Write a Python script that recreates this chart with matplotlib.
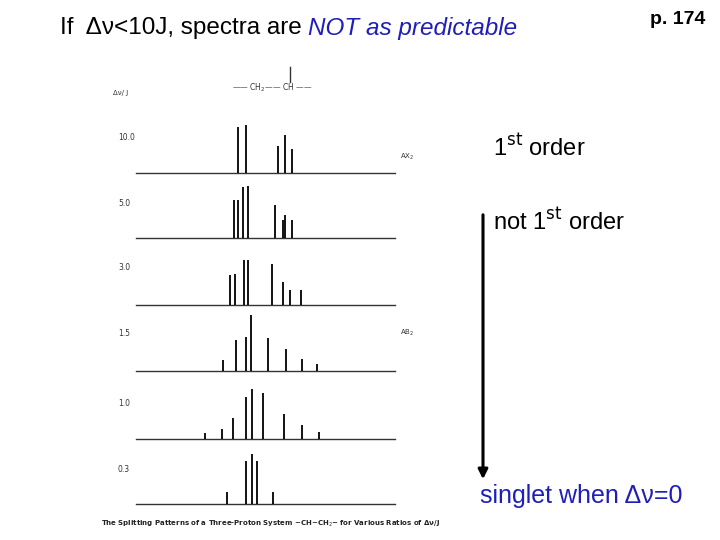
import matplotlib
matplotlib.use("Agg")
import matplotlib.pyplot as plt

ratios = ["10.0", "5.0", "3.0", "1.5", "1.0", "0.3"]
baselines = [173, 238, 305, 371, 439, 504]
label_y = [137, 204, 268, 333, 403, 470]
peak_pos = [
    [238, 246, 278, 285, 292],
    [234, 238, 243, 248, 275, 283, 285, 292],
    [230, 235, 244, 248, 272, 283, 290, 301],
    [223, 236, 246, 251, 268, 286, 302, 317],
    [205, 222, 233, 246, 252, 263, 284, 302, 319],
    [227, 246, 252, 257, 273],
]
peak_h = [
    [46, 48, 27, 38, 24],
    [38, 38, 51, 52, 33, 18, 23, 18],
    [30, 31, 45, 45, 41, 23, 15, 15],
    [11, 31, 34, 56, 33, 22, 12, 7],
    [6, 10, 21, 42, 50, 46, 25, 14, 7],
    [12, 43, 50, 43, 12],
]

fig = plt.figure(figsize=(7.2, 5.4), dpi=100)
ax = fig.add_axes([0, 0, 1, 1])
ax.set_xlim(0, 720)
ax.set_ylim(540, 0)
ax.axis("off")

for r, b, ly, pos, hs in zip(ratios, baselines, label_y, peak_pos, peak_h):
    ax.plot([136, 395], [b, b], color="#333333", lw=1.0)
    ax.vlines(pos, [b - h for h in hs], b, color="black", lw=1.3)
    ax.text(118, ly, r, fontsize=5.5, va="center", color="#333333")

ax.text(400, 157, "AX$_2$", fontsize=5, va="center", color="#333333")
ax.text(400, 333, "AB$_2$", fontsize=5, va="center", color="#333333")
ax.text(113, 93, "Δν/ J", fontsize=5, va="center", color="#333333")
ax.text(272, 88, "—— CH$_2$—— CH ——", fontsize=5.5, ha="center", va="center", color="#333333")
ax.plot([290, 290], [67, 82], color="#333333", lw=1)
ax.text(271, 524, "The Splitting Patterns of a Three-Proton System −CH−CH$_2$− for Various Ratios of Δν/J",
        fontsize=5.0, ha="center", va="center", weight="bold", color="#222222")

t1 = ax.text(60, 28, "If  Δν<10J, spectra are ", fontsize=17.5, va="center", fontfamily="Liberation Sans")
fig.canvas.draw()
bb = t1.get_window_extent()
x2 = bb.x1
ax.text(x2, 28, "NOT as predictable", fontsize=17.5, va="center", color="#1f1fb8",
        style="italic", fontfamily="Liberation Sans")
ax.text(650, 20, "p. 174", fontsize=14, weight="bold", va="center", fontfamily="Liberation Sans")
ax.text(493, 148, "1$^{\\rm st}$ order", fontsize=17, va="center", fontfamily="Liberation Sans")
ax.text(493, 222, "not 1$^{\\rm st}$ order", fontsize=17, va="center", fontfamily="Liberation Sans")
ax.annotate("", xy=(483, 482), xytext=(483, 212),
            arrowprops=dict(arrowstyle="-|>", lw=2.2, color="black", mutation_scale=14))
ax.text(480, 496, "singlet when Δν=0", fontsize=18, va="center", color="#1f1fb8",
        fontfamily="Liberation Sans")

fig.savefig("out.png", dpi=100)
